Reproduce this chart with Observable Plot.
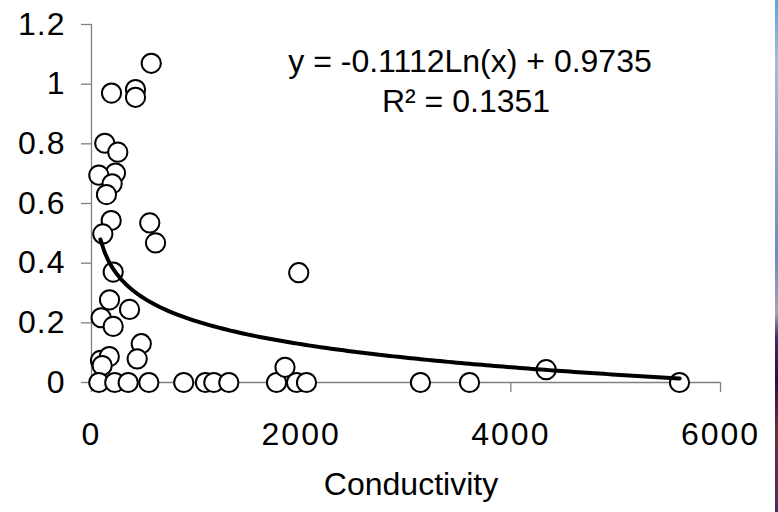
<!DOCTYPE html>
<html><head><meta charset="utf-8">
<script src="https://cdn.jsdelivr.net/npm/d3@7"></script>
<script src="https://cdn.jsdelivr.net/npm/@observablehq/plot@0.6"></script>
<style>
html,body{margin:0;padding:0;background:#fff;}
#chart{position:relative;width:778px;height:512px;overflow:hidden;background:#fff;}
#edge{position:absolute;left:775px;top:0;width:3px;height:512px;
 background:linear-gradient(to bottom,#5aa6dc 0%,#a6bcd8 12%,#8ea4c0 30%,#6a8cc0 50%,#a4a4b4 61%,#3c2c6c 66%,#281040 74%,#6a3042 84%,#4c2c5c 100%);}
svg [aria-label="x-axis tick label"] text{letter-spacing:2px;}
svg [aria-label="y-axis tick label"] text{letter-spacing:1px;}
</style>
</head><body>
<div id="chart"><div id="edge"></div></div>
<script>
// Scatter data
const conductivity = [570, 191, 420, 420, 127, 251, 229, 70, 197, 143,
  188, 108, 556, 611, 207, 172, 363, 92, 207, 475,
  436, 86, 170, 102, 70, 222, 350, 547, 880, 1087,
  1167, 1310, 1765, 1956, 2051, 1846, 1977, 3138, 3606, 5609, 4337];
const yValue = [1.07, 0.97, 0.982, 0.956, 0.802, 0.772, 0.702, 0.695, 0.666, 0.630,
  0.543, 0.498, 0.535, 0.468, 0.370, 0.277, 0.245, 0.217, 0.188, 0.130,
  0.079, 0.074, 0.087, 0.057, 0, 0, 0, 0, 0, 0,
  0, 0, 0, 0, 0, 0.051, 0.368, 0, 0, 0, 0.043];

// Logarithmic trendline shown on the chart: y = a*ln(x) + b
const trendA = -0.1112;
const trendB = 0.9735;
const trendXs = d3.range(85, 5611, 40).concat([5611]);

const xTicks = [0, 2000, 4000, 6000];
const yTicks = [0, 0.2, 0.4, 0.6, 0.8, 1, 1.2];
const xLabel = "Conductivity";
const eqText = "y = -0.1112Ln(x) + 0.9735";
const r2Text = "R\u00B2 = 0.1351";

const points = conductivity.map((x, i) => ({x, y: yValue[i]}));
const trend = trendXs.map(x => ({x, y: trendA * Math.log(x) + trendB}));

const axisGray = "#808080";
const plot = Plot.plot({
  width: 778,
  height: 512,
  marginLeft: 91,
  marginRight: 58,
  marginTop: 24,
  marginBottom: 130,
  style: {fontFamily: "'Liberation Sans', Arial, sans-serif", fontSize: "32px", color: "black", background: "transparent"},
  x: {domain: [0, 6000]},
  y: {domain: [0, 1.2]},
  marks: [
    Plot.ruleX([0], {stroke: axisGray, strokeWidth: 1.3}),
    Plot.ruleY([0], {stroke: axisGray, strokeWidth: 1.3}),
    Plot.axisX({ticks: xTicks, tickFormat: d => String(d), tickSize: 10, tickPadding: 30, stroke: axisGray, fill: "black", strokeWidth: 1.3, fontSize: 32, label: null}),
    Plot.axisY({ticks: yTicks, tickFormat: d => String(d), tickSize: 10, tickPadding: 16, stroke: axisGray, fill: "black", strokeWidth: 1.3, fontSize: 32, label: null}),
    Plot.dot(points, {x: "x", y: "y", r: 9.6, fill: "white", stroke: "black", strokeWidth: 2}),
    Plot.line(trend, {x: "x", y: "y", stroke: "black", strokeWidth: 4}),
    Plot.text([eqText], {text: d => d, frameAnchor: "top", dx: 64, dy: 37, lineAnchor: "middle", fontSize: 32, fill: "black"}),
    Plot.text([r2Text], {text: d => d, frameAnchor: "top", dx: 60, dy: 77, lineAnchor: "middle", fontSize: 32, fill: "black", style: "letter-spacing:1px"}),
    Plot.text([xLabel], {text: d => d, frameAnchor: "bottom", dx: 5, dy: 102, lineAnchor: "middle", fontSize: 32, fill: "black", style: "letter-spacing:2px"})
  ]
});
plot.style.position = "absolute";
plot.style.left = "0";
plot.style.top = "0";
document.getElementById("chart").appendChild(plot);
</script>
</body></html>
